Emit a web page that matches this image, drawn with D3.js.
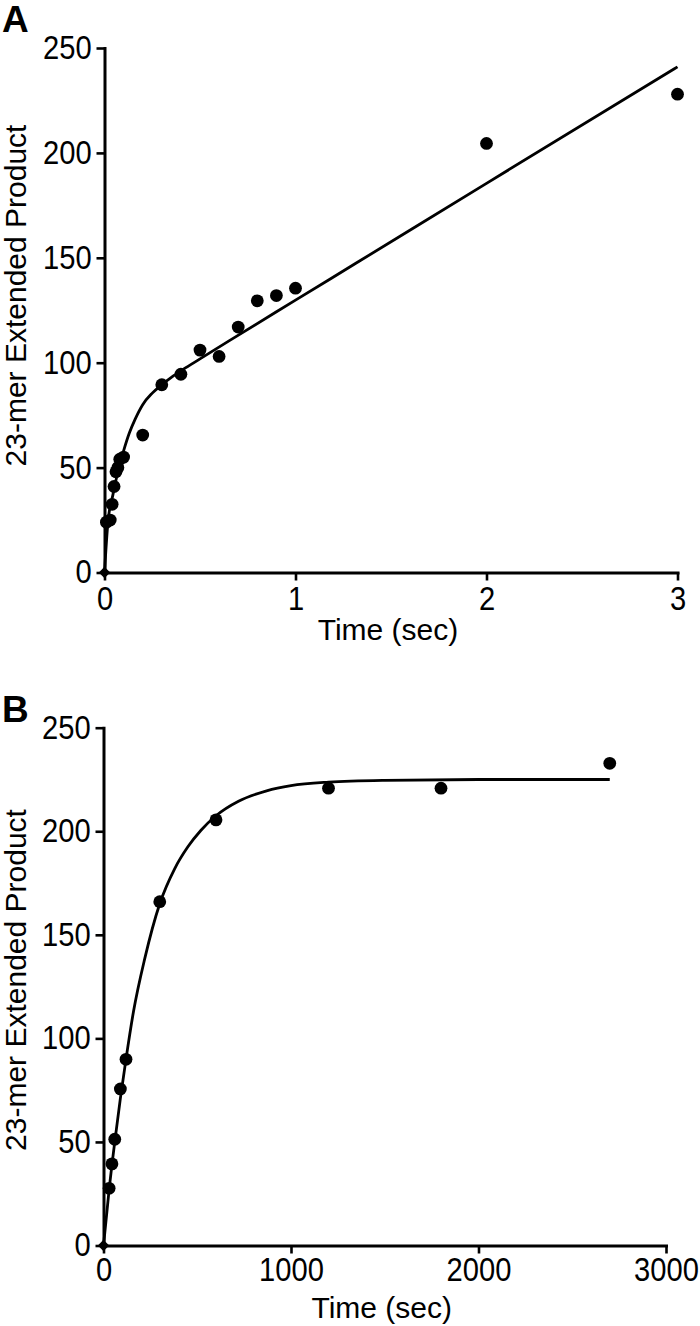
<!DOCTYPE html>
<html>
<head>
<meta charset="utf-8">
<script src="https://cdn.jsdelivr.net/npm/d3@7"></script>
<style>
  html, body { margin: 0; padding: 0; background: #fff; }
  svg { display: block; }
  text { font-family: "Liberation Sans", Arial, Helvetica, sans-serif; fill: #000; }
</style>
</head>
<body>
<svg id="chart" width="700" height="1326"></svg>
<script>
// ---------- Data ----------
// Panel A: rapid-quench time course (seconds)
const panelATime  = [0, 0.01, 0.03, 0.04, 0.05, 0.06, 0.07, 0.08, 0.1, 0.2, 0.3, 0.4, 0.5, 0.6, 0.7, 0.8, 0.9, 1, 2, 3];
const panelAValue = [0, 24, 25, 32.5, 41, 48, 50, 54, 55, 65.5, 89.5, 94.5, 106, 103, 117, 129.5, 132, 135.5, 204.5, 228];
// Panel A fitted curve
const fitATime  = [0, 0.018, 0.044, 0.07, 0.1, 0.13, 0.16, 0.2, 0.25, 0.3, 0.35, 0.41, 0.5, 0.654, 1.0, 1.318, 2.0, 3.0];
const fitAValue = [0, 24, 37, 48, 58, 66.5, 73, 80, 85.5, 89.5, 93, 96.7, 101.8, 110.5, 129.8, 147.5, 185.5, 241];

// Panel B: slow time course (seconds)
const panelBTime  = [0, 30, 45, 60, 90, 120, 300, 600, 1200, 1800, 2700];
const panelBValue = [0, 27.6, 39.4, 51.3, 75.6, 89.9, 166, 205.5, 220.8, 220.8, 232.8];
// Panel B fitted curve
const fitBTime  = [0, 30, 60, 90, 120, 160, 220, 300, 380, 450, 520, 600, 720, 870, 1000, 1200, 1500, 2000, 2700];
const fitBValue = [0, 27, 50, 71, 90, 113, 138.5, 165, 182, 192.5, 200.5, 207.5, 214.5, 219.5, 222, 223.7, 224.6, 225, 225];

const yTicks  = [0, 50, 100, 150, 200, 250];
const xTicksA = [0, 1, 2, 3];
const xTicksB = [0, 1000, 2000, 3000];
const panelLabels = ["A", "B"];
const yTitle = "23-mer Extended Product";
const xTitle = "Time (sec)";

// ---------- Drawing ----------
const svg = d3.select("#chart");

const panels = [
  { label: panelLabels[0], labelY: 32,
    t: panelATime, v: panelAValue, ft: fitATime, fv: fitAValue,
    xDomain: [0, 3], xTicks: xTicksA,
    xRange: [104.5, 677.5], yRange: [572.5, 48],
    xLabelPad: 6, xTitleY: 639.5, yTitleY: 295.5 },
  { label: panelLabels[1], labelY: 721.5,
    t: panelBTime, v: panelBValue, ft: fitBTime, fv: fitBValue,
    xDomain: [0, 3000], xTicks: xTicksB,
    xRange: [103.5, 666], yRange: [1245.5, 727.7],
    xLabelPad: 4.5, xTitleY: 1318, yTitleY: 980 }
];

const fmt = d3.format("d");

panels.forEach(p => {
  const x = d3.scaleLinear().domain(p.xDomain).range(p.xRange);
  const y = d3.scaleLinear().domain([0, 250]).range(p.yRange);
  const g = svg.append("g");

  // Y axis
  const yAxis = g.append("g")
    .attr("transform", `translate(${p.xRange[0]},0)`)
    .call(d3.axisLeft(y).tickValues(yTicks).tickFormat(fmt)
      .tickSize(8).tickPadding(4.8).tickSizeOuter(0));
  // X axis
  const xAxis = g.append("g")
    .attr("transform", `translate(0,${p.yRange[0]})`)
    .call(d3.axisBottom(x).tickValues(p.xTicks).tickFormat(fmt)
      .tickSize(8).tickPadding(p.xLabelPad).tickSizeOuter(0));

  [yAxis, xAxis].forEach(a => {
    a.select(".domain").attr("stroke", "#000").attr("stroke-width", 3).attr("stroke-linecap", "square");
    a.selectAll(".tick line").attr("stroke", "#000").attr("stroke-width", 2.6);
    a.selectAll(".tick text")
      .attr("font-size", 32.5)
      .attr("font-family", '"Liberation Sans", Arial, sans-serif')
      .attr("fill", "#000")
      .attr("textLength", function () { return this.textContent.length * 16.2; })
      .attr("lengthAdjust", "spacingAndGlyphs");
  });

  // Fitted curve
  const line = d3.line()
    .x(d => x(d[0]))
    .y(d => y(d[1]))
    .curve(d3.curveMonotoneX);
  g.append("path")
    .datum(p.ft.map((t, i) => [t, p.fv[i]]))
    .attr("fill", "none")
    .attr("stroke", "#000")
    .attr("stroke-width", 2.8)
    .attr("d", line);

  // Data points (origin drawn as a diamond, others as filled circles)
  const pts = p.t.map((t, i) => [t, p.v[i]]);
  g.selectAll("circle.pt")
    .data(pts.filter(d => d[0] !== 0))
    .join("circle")
    .attr("class", "pt")
    .attr("cx", d => x(d[0]))
    .attr("cy", d => y(d[1]))
    .attr("r", 6.4)
    .attr("fill", "#000");
  g.selectAll("path.origin")
    .data(pts.filter(d => d[0] === 0))
    .join("path")
    .attr("class", "origin")
    .attr("d", d3.symbol().type(d3.symbolSquare).size(64))
    .attr("transform", d => `translate(${x(d[0])},${y(d[1])}) rotate(45)`)
    .attr("fill", "#000");

  // Axis titles
  g.append("text")
    .attr("x", (p.xRange[0] + p.xRange[1]) / 2 - 3)
    .attr("y", p.xTitleY)
    .attr("text-anchor", "middle")
    .attr("font-size", 30)
    .text(xTitle);
  g.append("text")
    .attr("transform", `translate(26,${p.yTitleY}) rotate(-90)`)
    .attr("text-anchor", "middle")
    .attr("font-size", 30)
    .text(yTitle);

  // Panel letter
  g.append("text")
    .attr("x", 2)
    .attr("y", p.labelY)
    .attr("font-size", 37)
    .attr("font-weight", "bold")
    .text(p.label);
});
</script>
</body>
</html>
